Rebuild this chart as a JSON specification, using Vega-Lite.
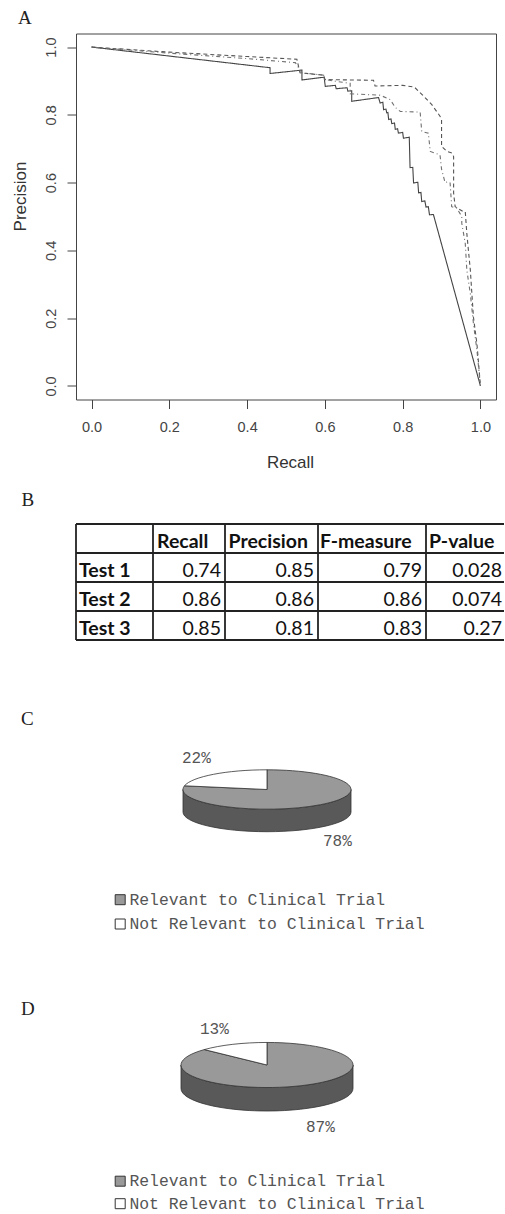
{
  "$schema": "https://vega.github.io/schema/vega-lite/v6.json",
  "background": "white",
  "padding": {"left": 10, "top": 8.5, "right": 0, "bottom": 0},
  "autosize": {"type": "pad"},
  "config": {"view": {"stroke": null}},
  "spacing": 20.5,
  "resolve": {"scale": {"fill": "independent"}, "legend": {"fill": "independent"}},
  "datasets": {
    "pr": [
      {"test": "Test 1", "recall": 0, "precision": 1},
      {"test": "Test 1", "recall": 0.459, "precision": 0.939},
      {"test": "Test 1", "recall": 0.459, "precision": 0.922},
      {"test": "Test 1", "recall": 0.541, "precision": 0.932},
      {"test": "Test 1", "recall": 0.541, "precision": 0.903},
      {"test": "Test 1", "recall": 0.598, "precision": 0.911},
      {"test": "Test 1", "recall": 0.601, "precision": 0.884},
      {"test": "Test 1", "recall": 0.627, "precision": 0.887},
      {"test": "Test 1", "recall": 0.629, "precision": 0.877},
      {"test": "Test 1", "recall": 0.657, "precision": 0.880},
      {"test": "Test 1", "recall": 0.659, "precision": 0.870},
      {"test": "Test 1", "recall": 0.669, "precision": 0.871},
      {"test": "Test 1", "recall": 0.669, "precision": 0.840},
      {"test": "Test 1", "recall": 0.738, "precision": 0.851},
      {"test": "Test 1", "recall": 0.742, "precision": 0.835},
      {"test": "Test 1", "recall": 0.749, "precision": 0.837},
      {"test": "Test 1", "recall": 0.751, "precision": 0.815},
      {"test": "Test 1", "recall": 0.757, "precision": 0.817},
      {"test": "Test 1", "recall": 0.759, "precision": 0.806},
      {"test": "Test 1", "recall": 0.762, "precision": 0.807},
      {"test": "Test 1", "recall": 0.764, "precision": 0.786},
      {"test": "Test 1", "recall": 0.770, "precision": 0.788},
      {"test": "Test 1", "recall": 0.772, "precision": 0.774},
      {"test": "Test 1", "recall": 0.779, "precision": 0.776},
      {"test": "Test 1", "recall": 0.781, "precision": 0.757},
      {"test": "Test 1", "recall": 0.787, "precision": 0.759},
      {"test": "Test 1", "recall": 0.789, "precision": 0.746},
      {"test": "Test 1", "recall": 0.800, "precision": 0.748},
      {"test": "Test 1", "recall": 0.802, "precision": 0.731},
      {"test": "Test 1", "recall": 0.817, "precision": 0.734},
      {"test": "Test 1", "recall": 0.819, "precision": 0.644},
      {"test": "Test 1", "recall": 0.826, "precision": 0.645},
      {"test": "Test 1", "recall": 0.828, "precision": 0.599},
      {"test": "Test 1", "recall": 0.839, "precision": 0.601},
      {"test": "Test 1", "recall": 0.841, "precision": 0.570},
      {"test": "Test 1", "recall": 0.847, "precision": 0.571},
      {"test": "Test 1", "recall": 0.849, "precision": 0.544},
      {"test": "Test 1", "recall": 0.857, "precision": 0.546},
      {"test": "Test 1", "recall": 0.860, "precision": 0.528},
      {"test": "Test 1", "recall": 0.866, "precision": 0.529},
      {"test": "Test 1", "recall": 0.869, "precision": 0.505},
      {"test": "Test 1", "recall": 0.879, "precision": 0.506},
      {"test": "Test 1", "recall": 1.0, "precision": 0.0},
      {"test": "Test 2", "recall": 0, "precision": 1},
      {"test": "Test 2", "recall": 0.2, "precision": 0.985},
      {"test": "Test 2", "recall": 0.4, "precision": 0.972},
      {"test": "Test 2", "recall": 0.528, "precision": 0.964},
      {"test": "Test 2", "recall": 0.536, "precision": 0.924},
      {"test": "Test 2", "recall": 0.597, "precision": 0.917},
      {"test": "Test 2", "recall": 0.600, "precision": 0.904},
      {"test": "Test 2", "recall": 0.725, "precision": 0.902},
      {"test": "Test 2", "recall": 0.729, "precision": 0.885},
      {"test": "Test 2", "recall": 0.800, "precision": 0.887},
      {"test": "Test 2", "recall": 0.830, "precision": 0.882},
      {"test": "Test 2", "recall": 0.854, "precision": 0.855},
      {"test": "Test 2", "recall": 0.875, "precision": 0.830},
      {"test": "Test 2", "recall": 0.896, "precision": 0.796},
      {"test": "Test 2", "recall": 0.900, "precision": 0.786},
      {"test": "Test 2", "recall": 0.900, "precision": 0.707},
      {"test": "Test 2", "recall": 0.914, "precision": 0.692},
      {"test": "Test 2", "recall": 0.927, "precision": 0.687},
      {"test": "Test 2", "recall": 0.931, "precision": 0.677},
      {"test": "Test 2", "recall": 0.931, "precision": 0.569},
      {"test": "Test 2", "recall": 0.935, "precision": 0.529},
      {"test": "Test 2", "recall": 0.956, "precision": 0.514},
      {"test": "Test 2", "recall": 0.961, "precision": 0.514},
      {"test": "Test 2", "recall": 0.965, "precision": 0.450},
      {"test": "Test 2", "recall": 0.969, "precision": 0.401},
      {"test": "Test 2", "recall": 0.974, "precision": 0.342},
      {"test": "Test 2", "recall": 0.978, "precision": 0.272},
      {"test": "Test 2", "recall": 0.982, "precision": 0.203},
      {"test": "Test 2", "recall": 0.991, "precision": 0.124},
      {"test": "Test 2", "recall": 1.0, "precision": 0.0},
      {"test": "Test 3", "recall": 0, "precision": 1},
      {"test": "Test 3", "recall": 0.2, "precision": 0.982},
      {"test": "Test 3", "recall": 0.4, "precision": 0.966},
      {"test": "Test 3", "recall": 0.524, "precision": 0.954},
      {"test": "Test 3", "recall": 0.541, "precision": 0.924},
      {"test": "Test 3", "recall": 0.597, "precision": 0.917},
      {"test": "Test 3", "recall": 0.600, "precision": 0.904},
      {"test": "Test 3", "recall": 0.640, "precision": 0.897},
      {"test": "Test 3", "recall": 0.665, "precision": 0.893},
      {"test": "Test 3", "recall": 0.665, "precision": 0.862},
      {"test": "Test 3", "recall": 0.742, "precision": 0.858},
      {"test": "Test 3", "recall": 0.768, "precision": 0.845},
      {"test": "Test 3", "recall": 0.781, "precision": 0.822},
      {"test": "Test 3", "recall": 0.794, "precision": 0.810},
      {"test": "Test 3", "recall": 0.845, "precision": 0.808},
      {"test": "Test 3", "recall": 0.849, "precision": 0.751},
      {"test": "Test 3", "recall": 0.866, "precision": 0.746},
      {"test": "Test 3", "recall": 0.871, "precision": 0.692},
      {"test": "Test 3", "recall": 0.896, "precision": 0.682},
      {"test": "Test 3", "recall": 0.900, "precision": 0.640},
      {"test": "Test 3", "recall": 0.909, "precision": 0.600},
      {"test": "Test 3", "recall": 0.918, "precision": 0.603},
      {"test": "Test 3", "recall": 0.922, "precision": 0.599},
      {"test": "Test 3", "recall": 0.926, "precision": 0.529},
      {"test": "Test 3", "recall": 0.939, "precision": 0.525},
      {"test": "Test 3", "recall": 0.952, "precision": 0.500},
      {"test": "Test 3", "recall": 0.952, "precision": 0.480},
      {"test": "Test 3", "recall": 0.961, "precision": 0.420},
      {"test": "Test 3", "recall": 0.965, "precision": 0.342},
      {"test": "Test 3", "recall": 0.974, "precision": 0.272},
      {"test": "Test 3", "recall": 0.982, "precision": 0.184},
      {"test": "Test 3", "recall": 0.991, "precision": 0.105},
      {"test": "Test 3", "recall": 1.0, "precision": 0.0}
    ],
    "rows": [{"test": "Header"}, {"test": "Test 1"}, {"test": "Test 2"}, {"test": "Test 3"}],
    "metrics": [
      {"test": "Test 1", "Recall": 0.74, "Precision": 0.85, "F-measure": 0.79, "P-value": 0.028},
      {"test": "Test 2", "Recall": 0.86, "Precision": 0.86, "F-measure": 0.86, "P-value": 0.074},
      {"test": "Test 3", "Recall": 0.85, "Precision": 0.81, "F-measure": 0.83, "P-value": 0.27}
    ],
    "pieC": [
      {"category": "Relevant to Clinical Trial", "share": 0.78},
      {"category": "Not Relevant to Clinical Trial", "share": 0.22}
    ],
    "pieD": [
      {"category": "Relevant to Clinical Trial", "share": 0.87},
      {"category": "Not Relevant to Clinical Trial", "share": 0.13}
    ]
  },
  "vconcat": [
    {
      "width": 420,
      "height": 366,
      "view": {"stroke": "#444", "strokeWidth": 1},
      "title": {"text": "A", "anchor": "start", "frame": "group", "font": "Liberation Serif", "fontSize": 19, "fontWeight": "normal", "color": "#222", "dx": -58, "dy": 18.5, "offset": 9, "baseline": "alphabetic"},
      "data": {"name": "pr"},
      "mark": {"type": "line", "strokeWidth": 1.1},
      "encoding": {
        "x": {"field": "recall", "type": "quantitative",
          "scale": {"domain": [-0.04, 1.04], "nice": false, "zero": false},
          "axis": {"title": "Recall", "values": [0, 0.2, 0.4, 0.6, 0.8, 1.0], "format": ".1f", "domain": false, "grid": false, "tickSize": 9, "tickColor": "#444", "tickWidth": 1, "labelFont": "Liberation Sans", "labelFontSize": 14.5, "labelColor": "#444", "labelPadding": 12, "labelFlush": false, "labelOverlap": false, "labelBaseline": "top", "titleFont": "Liberation Sans", "titleFontSize": 17, "titleFontWeight": "normal", "titleColor": "#333", "titleX": 214, "titleY": 67.5, "titleBaseline": "alphabetic", "titleAlign": "center"}},
        "y": {"field": "precision", "type": "quantitative",
          "scale": {"domain": [-0.04, 1.04], "nice": false, "zero": false},
          "axis": {"title": "Precision", "values": [0, 0.2, 0.4, 0.6, 0.8, 1.0], "format": ".1f", "domain": false, "grid": false, "tickSize": 9, "tickColor": "#444", "tickWidth": 1, "labelFont": "Liberation Sans", "labelFontSize": 14.5, "labelColor": "#444", "labelPadding": 12, "labelFlush": false, "labelOverlap": false, "labelAngle": 270, "labelAlign": "center", "labelBaseline": "alphabetic", "titleFont": "Liberation Sans", "titleFontSize": 17, "titleFontWeight": "normal", "titleColor": "#333", "titleAngle": 270, "titleX": -51, "titleY": 162.5, "titleBaseline": "alphabetic", "titleAlign": "center"}},
        "strokeDash": {"field": "test", "type": "nominal", "scale": {"domain": ["Test 1", "Test 2", "Test 3"], "range": [[1, 0], [4, 3], [1, 3, 4, 3]]}, "legend": null},
        "color": {"field": "test", "type": "nominal", "scale": {"domain": ["Test 1", "Test 2", "Test 3"], "range": ["#444444", "#555555", "#707070"]}, "legend": null},
        "order": {"value": null}
      }
    },
    {
      "title": {"text": "B", "anchor": "start", "frame": "group", "font": "Liberation Serif", "fontSize": 19, "fontWeight": "normal", "color": "#222", "dx": -54.5, "dy": 18.5, "offset": 16.5, "baseline": "alphabetic"},
      "spacing": 0,
      "bounds": "flush",
      "hconcat": [
        {
          "width": 77, "height": 116,
          "layer": [
            {"data": {"name": "rows"}, "mark": {"type": "rule", "stroke": "#222", "strokeWidth": 1.8},
             "encoding": {"y": {"field": "test", "type": "nominal", "bandPosition": 0, "scale": {"type": "band", "domain": ["Header", "Test 1", "Test 2", "Test 3"], "paddingInner": 0, "paddingOuter": 0}, "axis": null}}},
            {"data": {"values": [{"test": "Test 3"}]}, "mark": {"type": "rule", "stroke": "#222", "strokeWidth": 1.8},
             "encoding": {"y": {"field": "test", "type": "nominal", "bandPosition": 1, "axis": null}}},
            {"data": {"values": [{"edge": "left"}]}, "mark": {"type": "rule", "stroke": "#222", "strokeWidth": 1.8},
             "encoding": {"x": {"datum": 0, "type": "quantitative", "scale": {"domain": [0, 1], "nice": false, "zero": false}, "axis": null}}},
            {"data": {"name": "metrics"}, "mark": {"type": "text", "align": "left", "baseline": "alphabetic", "dx": 3, "dy": -5.5, "font": "Lato", "fontSize": 19.5, "fontWeight": "bold", "color": "#111"},
             "encoding": {"x": {"datum": 0, "type": "quantitative", "axis": null}, "y": {"field": "test", "type": "nominal", "bandPosition": 1, "axis": null}, "text": {"field": "test", "type": "nominal"}}}
          ]
        },
        {
          "width": 72, "height": 116,
          "layer": [
            {"data": {"name": "rows"}, "mark": {"type": "rule", "stroke": "#222", "strokeWidth": 1.8},
             "encoding": {"y": {"field": "test", "type": "nominal", "bandPosition": 0, "scale": {"type": "band", "domain": ["Header", "Test 1", "Test 2", "Test 3"], "paddingInner": 0, "paddingOuter": 0}, "axis": null}}},
            {"data": {"values": [{"test": "Test 3"}]}, "mark": {"type": "rule", "stroke": "#222", "strokeWidth": 1.8},
             "encoding": {"y": {"field": "test", "type": "nominal", "bandPosition": 1, "axis": null}}},
            {"data": {"values": [{"edge": "left"}]}, "mark": {"type": "rule", "stroke": "#222", "strokeWidth": 1.8},
             "encoding": {"x": {"datum": 0, "type": "quantitative", "scale": {"domain": [0, 1], "nice": false, "zero": false}, "axis": null}}},
            {"data": {"values": [{"test": "Header"}]}, "mark": {"type": "text", "align": "left", "baseline": "alphabetic", "dx": 4, "dy": -5.5, "font": "Lato", "fontSize": 19.5, "fontWeight": "bold", "color": "#111"},
             "encoding": {"x": {"datum": 0, "type": "quantitative", "axis": null}, "y": {"field": "test", "type": "nominal", "bandPosition": 1, "axis": null}, "text": {"value": "Recall"}}},
            {"data": {"name": "metrics"}, "mark": {"type": "text", "align": "right", "baseline": "alphabetic", "dx": -4, "dy": -5.5, "font": "Lato", "fontSize": 19.5, "color": "#111"},
             "encoding": {"x": {"datum": 1, "type": "quantitative", "axis": null}, "y": {"field": "test", "type": "nominal", "bandPosition": 1, "axis": null}, "text": {"field": "Recall", "type": "nominal"}}}
          ]
        },
        {
          "width": 93, "height": 116,
          "layer": [
            {"data": {"name": "rows"}, "mark": {"type": "rule", "stroke": "#222", "strokeWidth": 1.8},
             "encoding": {"y": {"field": "test", "type": "nominal", "bandPosition": 0, "scale": {"type": "band", "domain": ["Header", "Test 1", "Test 2", "Test 3"], "paddingInner": 0, "paddingOuter": 0}, "axis": null}}},
            {"data": {"values": [{"test": "Test 3"}]}, "mark": {"type": "rule", "stroke": "#222", "strokeWidth": 1.8},
             "encoding": {"y": {"field": "test", "type": "nominal", "bandPosition": 1, "axis": null}}},
            {"data": {"values": [{"edge": "left"}]}, "mark": {"type": "rule", "stroke": "#222", "strokeWidth": 1.8},
             "encoding": {"x": {"datum": 0, "type": "quantitative", "scale": {"domain": [0, 1], "nice": false, "zero": false}, "axis": null}}},
            {"data": {"values": [{"test": "Header"}]}, "mark": {"type": "text", "align": "left", "baseline": "alphabetic", "dx": 3.5, "dy": -5.5, "font": "Lato", "fontSize": 19.5, "fontWeight": "bold", "color": "#111"},
             "encoding": {"x": {"datum": 0, "type": "quantitative", "axis": null}, "y": {"field": "test", "type": "nominal", "bandPosition": 1, "axis": null}, "text": {"value": "Precision"}}},
            {"data": {"name": "metrics"}, "mark": {"type": "text", "align": "right", "baseline": "alphabetic", "dx": -4, "dy": -5.5, "font": "Lato", "fontSize": 19.5, "color": "#111"},
             "encoding": {"x": {"datum": 1, "type": "quantitative", "axis": null}, "y": {"field": "test", "type": "nominal", "bandPosition": 1, "axis": null}, "text": {"field": "Precision", "type": "nominal"}}}
          ]
        },
        {
          "width": 108, "height": 116,
          "layer": [
            {"data": {"name": "rows"}, "mark": {"type": "rule", "stroke": "#222", "strokeWidth": 1.8},
             "encoding": {"y": {"field": "test", "type": "nominal", "bandPosition": 0, "scale": {"type": "band", "domain": ["Header", "Test 1", "Test 2", "Test 3"], "paddingInner": 0, "paddingOuter": 0}, "axis": null}}},
            {"data": {"values": [{"test": "Test 3"}]}, "mark": {"type": "rule", "stroke": "#222", "strokeWidth": 1.8},
             "encoding": {"y": {"field": "test", "type": "nominal", "bandPosition": 1, "axis": null}}},
            {"data": {"values": [{"edge": "left"}]}, "mark": {"type": "rule", "stroke": "#222", "strokeWidth": 1.8},
             "encoding": {"x": {"datum": 0, "type": "quantitative", "scale": {"domain": [0, 1], "nice": false, "zero": false}, "axis": null}}},
            {"data": {"values": [{"test": "Header"}]}, "mark": {"type": "text", "align": "left", "baseline": "alphabetic", "dx": 2, "dy": -5.5, "font": "Lato", "fontSize": 19.5, "fontWeight": "bold", "color": "#111"},
             "encoding": {"x": {"datum": 0, "type": "quantitative", "axis": null}, "y": {"field": "test", "type": "nominal", "bandPosition": 1, "axis": null}, "text": {"value": "F-measure"}}},
            {"data": {"name": "metrics"}, "mark": {"type": "text", "align": "right", "baseline": "alphabetic", "dx": -4, "dy": -5.5, "font": "Lato", "fontSize": 19.5, "color": "#111"},
             "encoding": {"x": {"datum": 1, "type": "quantitative", "axis": null}, "y": {"field": "test", "type": "nominal", "bandPosition": 1, "axis": null}, "text": {"field": "F-measure", "type": "nominal"}}}
          ]
        },
        {
          "width": 78, "height": 116,
          "layer": [
            {"data": {"name": "rows"}, "mark": {"type": "rule", "stroke": "#222", "strokeWidth": 1.8},
             "encoding": {"y": {"field": "test", "type": "nominal", "bandPosition": 0, "scale": {"type": "band", "domain": ["Header", "Test 1", "Test 2", "Test 3"], "paddingInner": 0, "paddingOuter": 0}, "axis": null}}},
            {"data": {"values": [{"test": "Test 3"}]}, "mark": {"type": "rule", "stroke": "#222", "strokeWidth": 1.8},
             "encoding": {"y": {"field": "test", "type": "nominal", "bandPosition": 1, "axis": null}}},
            {"data": {"values": [{"edge": "left"}]}, "mark": {"type": "rule", "stroke": "#222", "strokeWidth": 1.8},
             "encoding": {"x": {"datum": 0, "type": "quantitative", "scale": {"domain": [0, 1], "nice": false, "zero": false}, "axis": null}}},
            {"data": {"values": [{"test": "Header"}]}, "mark": {"type": "text", "align": "left", "baseline": "alphabetic", "dx": 3, "dy": -5.5, "font": "Lato", "fontSize": 19.5, "fontWeight": "bold", "color": "#111"},
             "encoding": {"x": {"datum": 0, "type": "quantitative", "axis": null}, "y": {"field": "test", "type": "nominal", "bandPosition": 1, "axis": null}, "text": {"value": "P-value"}}},
            {"data": {"name": "metrics"}, "mark": {"type": "text", "align": "right", "baseline": "alphabetic", "dx": -2, "dy": -5.5, "font": "Lato", "fontSize": 19.5, "color": "#111"},
             "encoding": {"x": {"datum": 1, "type": "quantitative", "axis": null}, "y": {"field": "test", "type": "nominal", "bandPosition": 1, "axis": null}, "text": {"field": "P-value", "type": "nominal"}}}
          ]
        }
      ]
    },
    {
      "width": 420,
      "height": 310,
      "title": {"text": "C", "anchor": "start", "frame": "group", "font": "Liberation Serif", "fontSize": 19, "fontWeight": "normal", "color": "#222", "dx": -55, "dy": 82.5, "offset": 0, "baseline": "alphabetic"},
      "data": {"name": "pieC"},
      "encoding": {
        "x": {"datum": 0, "type": "quantitative", "scale": {"domain": [-191, 229], "nice": false, "zero": false}, "axis": null},
        "y": {"datum": 0, "type": "quantitative", "scale": {"domain": [-128, 182], "reverse": true, "nice": false, "zero": false}, "axis": null}
      },
      "layer": [
        {"transform": [{"filter": "datum.category === 'Relevant to Clinical Trial'"}],
         "mark": {"type": "point", "shape": "M-1,0L-1,0.268A1,0.2345,0,0,0,1,0.268L1,0A1,0.2345,0,0,1,-1,0Z", "size": 28224, "filled": true, "fill": "#595959", "stroke": "#333", "strokeWidth": 0.8, "opacity": 1}},
        {"transform": [{"filter": "datum.category === 'Relevant to Clinical Trial'"}],
         "mark": {"type": "point", "shape": "M0,0L0,-0.2345A1,0.2345,0,1,1,-0.9823,-0.044Z", "size": 28224, "filled": true, "stroke": "#333", "strokeWidth": 0.8, "opacity": 1},
         "encoding": {
           "fill": {"field": "category", "type": "nominal", "scale": {"domain": ["Relevant to Clinical Trial", "Not Relevant to Clinical Trial"], "range": ["#999999", "#ffffff"]},
             "legend": {"orient": "none", "legendX": 36, "legendY": 230, "title": null, "symbolType": "square", "symbolSize": 100, "symbolStrokeColor": "#333", "symbolStrokeWidth": 1, "symbolOpacity": 1, "labelFont": "Liberation Mono", "labelFontSize": 16.4, "labelColor": "#555", "labelLimit": 500, "rowPadding": 7.3, "labelOffset": 1, "padding": 0}}
         }},
        {"transform": [{"filter": "datum.category === 'Not Relevant to Clinical Trial'"}],
         "mark": {"type": "point", "shape": "M0,0L0,-0.2345A1,0.2345,0,0,0,-0.9823,-0.044Z", "size": 28224, "filled": true, "stroke": "#333", "strokeWidth": 0.8, "opacity": 1},
         "encoding": {
           "fill": {"field": "category", "type": "nominal", "scale": {"domain": ["Relevant to Clinical Trial", "Not Relevant to Clinical Trial"], "range": ["#999999", "#ffffff"]},
             "legend": {"orient": "none", "legendX": 36, "legendY": 230, "title": null, "symbolType": "square", "symbolSize": 100, "symbolStrokeColor": "#333", "symbolStrokeWidth": 1, "symbolOpacity": 1, "labelFont": "Liberation Mono", "labelFontSize": 16.4, "labelColor": "#555", "labelLimit": 500, "rowPadding": 7.3, "labelOffset": 1, "padding": 0}}
         }},
        {"transform": [{"filter": "datum.category === 'Not Relevant to Clinical Trial'"}],
         "mark": {"type": "text", "align": "left", "baseline": "alphabetic", "dx": -85, "dy": -26.3, "font": "Liberation Mono", "fontSize": 16, "color": "#555"},
         "encoding": {"text": {"field": "share", "type": "quantitative", "format": ".0%"}}},
        {"transform": [{"filter": "datum.category === 'Relevant to Clinical Trial'"}],
         "mark": {"type": "text", "align": "left", "baseline": "alphabetic", "dx": 56, "dy": 56, "font": "Liberation Mono", "fontSize": 16, "color": "#555"},
         "encoding": {"text": {"field": "share", "type": "quantitative", "format": ".0%"}}}
      ]
    },
    {
      "width": 420,
      "height": 223.5,
      "title": {"text": "D", "anchor": "start", "frame": "group", "font": "Liberation Serif", "fontSize": 19, "fontWeight": "normal", "color": "#222", "dx": -55, "dy": 42, "offset": 0, "baseline": "alphabetic"},
      "data": {"name": "pieD"},
      "encoding": {
        "x": {"datum": 0, "type": "quantitative", "scale": {"domain": [-191, 229], "nice": false, "zero": false}, "axis": null},
        "y": {"datum": 0, "type": "quantitative", "scale": {"domain": [-73, 150.5], "reverse": true, "nice": false, "zero": false}, "axis": null}
      },
      "layer": [
        {"transform": [{"filter": "datum.category === 'Relevant to Clinical Trial'"}],
         "mark": {"type": "point", "shape": "M-1,0L-1,0.273A1,0.262,0,0,0,1,0.273L1,0A1,0.262,0,0,1,-1,0Z", "size": 29584, "filled": true, "fill": "#595959", "stroke": "#333", "strokeWidth": 0.8, "opacity": 1}},
        {"transform": [{"filter": "datum.category === 'Relevant to Clinical Trial'"}],
         "mark": {"type": "point", "shape": "M0,0L0,-0.262A1,0.262,0,1,1,-0.729,-0.1793Z", "size": 29584, "filled": true, "stroke": "#333", "strokeWidth": 0.8, "opacity": 1},
         "encoding": {
           "fill": {"field": "category", "type": "nominal", "scale": {"domain": ["Relevant to Clinical Trial", "Not Relevant to Clinical Trial"], "range": ["#999999", "#ffffff"]},
             "legend": {"orient": "none", "legendX": 36, "legendY": 181, "title": null, "symbolType": "square", "symbolSize": 100, "symbolStrokeColor": "#333", "symbolStrokeWidth": 1, "symbolOpacity": 1, "labelFont": "Liberation Mono", "labelFontSize": 16.4, "labelColor": "#555", "labelLimit": 500, "rowPadding": 5.5, "labelOffset": 1, "padding": 0}}
         }},
        {"transform": [{"filter": "datum.category === 'Not Relevant to Clinical Trial'"}],
         "mark": {"type": "point", "shape": "M0,0L0,-0.262A1,0.262,0,0,0,-0.729,-0.1793Z", "size": 29584, "filled": true, "stroke": "#333", "strokeWidth": 0.8, "opacity": 1},
         "encoding": {
           "fill": {"field": "category", "type": "nominal", "scale": {"domain": ["Relevant to Clinical Trial", "Not Relevant to Clinical Trial"], "range": ["#999999", "#ffffff"]},
             "legend": {"orient": "none", "legendX": 36, "legendY": 181, "title": null, "symbolType": "square", "symbolSize": 100, "symbolStrokeColor": "#333", "symbolStrokeWidth": 1, "symbolOpacity": 1, "labelFont": "Liberation Mono", "labelFontSize": 16.4, "labelColor": "#555", "labelLimit": 500, "rowPadding": 5.5, "labelOffset": 1, "padding": 0}}
         }},
        {"transform": [{"filter": "datum.category === 'Not Relevant to Clinical Trial'"}],
         "mark": {"type": "text", "align": "left", "baseline": "alphabetic", "dx": -67, "dy": -31.5, "font": "Liberation Mono", "fontSize": 16, "color": "#555"},
         "encoding": {"text": {"field": "share", "type": "quantitative", "format": ".0%"}}},
        {"transform": [{"filter": "datum.category === 'Relevant to Clinical Trial'"}],
         "mark": {"type": "text", "align": "left", "baseline": "alphabetic", "dx": 39, "dy": 66.5, "font": "Liberation Mono", "fontSize": 16, "color": "#555"},
         "encoding": {"text": {"field": "share", "type": "quantitative", "format": ".0%"}}}
      ]
    }
  ]
}
